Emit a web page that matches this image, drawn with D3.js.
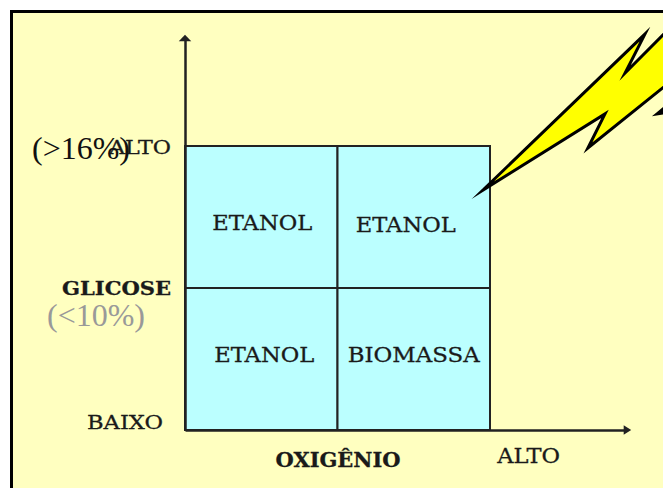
<!DOCTYPE html>
<html>
<head>
<meta charset="utf-8">
<script src="https://cdn.jsdelivr.net/npm/d3@7"></script>
<style>
html, body { margin: 0; padding: 0; background: #fff; overflow: hidden; }
svg { display: block; }
.lbl { font-family: "DejaVu Serif", serif; fill: #1a1a1a; stroke: #1a1a1a; stroke-width: 0.3px; }
.pct { font-family: "Liberation Serif", serif; font-size: 32px; }
</style>
</head>
<body>
<script>
//oxygen and glucose levels of the quadrants
var oxigenio = ["baixo", "alto"];
var glicose = ["baixo", "alto"];
var celulas = [
    ["baixo", "alto", "ETANOL"],
    ["alto", "alto", "ETANOL"],
    ["baixo", "baixo", "ETANOL"],
    ["alto", "baixo", "BIOMASSA"]
];

//axis labels, read along the axes (0 = baixo, 1 = alto)
var yTicks = [0.025, 0.5, 0.995];
var yLabels = ["BAIXO", "GLICOSE", "ALTO"];
var xTicks = [0.5, 1.125];
var xLabels = ["OXIGÊNIO", "ALTO"];

//lightning bolt outline, in axis units
var raio = [[0.977, 0.845], [1.508, 1.394], [1.443, 1.257], [1.623, 1.451],
    [1.623, 1.254], [1.321, 0.993], [1.377, 1.113]];
var raio2 = [[1.548, 1.113], [1.623, 1.18], [1.623, 1.127]];

window.onload = desenha();

function desenha(){
    var width = 663,
        height = 488;

    var svg = d3.select("body")
        .append("svg")
        .attr("width", width)
        .attr("height", height);

    //pale yellow slide with thick black border, cut off right and bottom
    svg.append("rect")
        .attr("x", 11.5).attr("y", 11.5)
        .attr("width", 700).attr("height", 600)
        .attr("fill", "#ffffc0")
        .attr("stroke", "#000")
        .attr("stroke-width", 3);

    var x = d3.scaleLinear().domain([0, 1]).range([185, 490]);
    var y = d3.scaleLinear().domain([0, 1]).range([430, 146]);
    var xBand = d3.scaleBand().domain(oxigenio).range([x(0), x(1)]);
    var yBand = d3.scaleBand().domain(glicose).range([y(0), y(1)]);

    //quadrants
    svg.selectAll(".cell")
        .data(celulas)
        .enter()
        .append("rect")
        .attr("class", "cell")
        .attr("x", function(d){ return xBand(d[0]); })
        .attr("y", function(d){ return yBand(d[1]); })
        .attr("width", xBand.bandwidth())
        .attr("height", yBand.bandwidth())
        .attr("fill", "#bbffff")
        .attr("stroke", "#222")
        .attr("stroke-width", 2);

    //the scanned labels sit a little off centre
    function nudgeX(d){
        if (d[1] == "alto") return d[0] == "baixo" ? 1 : -8;
        return d[0] == "baixo" ? 3 : 0;
    }
    function nudgeY(d){
        if (d[1] == "alto") return d[0] == "baixo" ? 7 : 9;
        return -3;
    }

    svg.selectAll(".cellText")
        .data(celulas)
        .enter()
        .append("text")
        .attr("class", "lbl cellText")
        .attr("x", function(d){ return xBand(d[0]) + xBand.bandwidth() / 2 + nudgeX(d); })
        .attr("y", function(d){ return yBand(d[1]) + yBand.bandwidth() / 2 + nudgeY(d); })
        .attr("text-anchor", "middle")
        .attr("dominant-baseline", "middle")
        .attr("font-size", 21)
        .attr("textLength", function(d){ return d[2] == "BIOMASSA" ? 132 : 100; })
        .attr("lengthAdjust", "spacingAndGlyphs")
        .text(function(d){ return d[2]; });

    //bolt
    var linha = d3.line()
        .x(function(d){ return x(d[0]); })
        .y(function(d){ return y(d[1]); })
        .curve(d3.curveLinearClosed);

    [raio, raio2].forEach(function(r){
        svg.append("path")
            .attr("d", linha(r))
            .attr("fill", "#ffff00")
            .attr("stroke", "#000")
            .attr("stroke-width", 3)
            .attr("stroke-linejoin", "miter")
            .attr("stroke-miterlimit", 12);
    });

    //axes, stretched past the grid up to the arrow heads
    var yAxisScale = d3.scaleLinear().domain([0, 1.38]).range([y(0), y(1.38)]);
    var xAxisScale = d3.scaleLinear().domain([0, 1.44]).range([x(0), x(1.44)]);

    var yAxis = svg.append("g")
        .attr("transform", "translate(" + x(0) + ",0)")
        .call(d3.axisLeft(yAxisScale)
            .tickValues(yTicks)
            .tickSize(0)
            .tickPadding(14)
            .tickFormat(function(d, i){ return yLabels[i]; }));

    var xAxis = svg.append("g")
        .attr("transform", "translate(0," + y(0) + ")")
        .call(d3.axisBottom(xAxisScale)
            .tickValues(xTicks)
            .tickSize(0)
            .tickPadding(18)
            .tickFormat(function(d, i){ return xLabels[i]; }));

    svg.selectAll(".domain")
        .attr("stroke", "#222")
        .attr("stroke-width", 2.5);

    yAxis.selectAll("text")
        .attr("class", "lbl")
        .attr("font-size", 19)
        .attr("font-weight", function(d, i){ return yLabels[i] == "GLICOSE" ? "bold" : "normal"; })
        .attr("textLength", function(d, i){ return yLabels[i] == "GLICOSE" ? 109 : yLabels[i] == "BAIXO" ? 76 : 62; })
        .attr("lengthAdjust", "spacingAndGlyphs")
        .attr("dx", function(d, i){ return yLabels[i] == "BAIXO" ? -8 : 0; });

    xAxis.selectAll("text")
        .attr("class", "lbl")
        .attr("font-size", 20)
        .attr("font-weight", function(d, i){ return xLabels[i] == "OXIGÊNIO" ? "bold" : "normal"; })
        .attr("textLength", function(d, i){ return xLabels[i] == "OXIGÊNIO" ? 125 : 63; })
        .attr("lengthAdjust", "spacingAndGlyphs")
        .attr("dy", function(d, i){ return xLabels[i] == "ALTO" ? "0.74em" : "0.93em"; });

    //arrow heads
    var seta = d3.symbol().type(d3.symbolTriangle).size(40);
    svg.append("path")
        .attr("d", seta())
        .attr("fill", "#222")
        .attr("transform", "translate(" + x(0) + "," + (y(1.38) + 1) + ") scale(1.3,0.8)");
    svg.append("path")
        .attr("d", seta())
        .attr("fill", "#222")
        .attr("transform", "translate(" + (x(1.44) + 2) + "," + y(0) + ") rotate(90) scale(1,0.9)");

    //percent notes typed over the scan
    svg.append("text")
        .attr("class", "pct")
        .attr("x", 32).attr("y", 159)
        .attr("fill", "#111")
        .text("(>16%)");
    svg.append("text")
        .attr("class", "pct")
        .attr("x", 47).attr("y", 326)
        .attr("fill", "#999")
        .text("(<10%)");
}
</script>
</body>
</html>
